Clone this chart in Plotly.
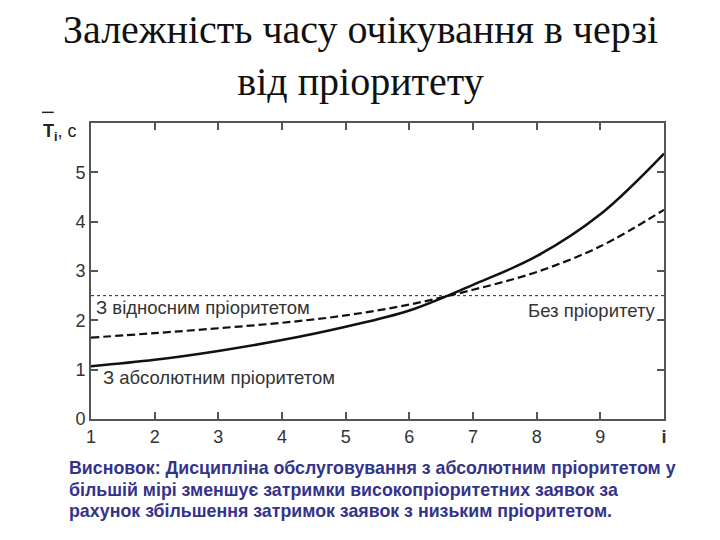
import plotly.graph_objects as go

priority = [1, 2, 3, 4, 5, 6, 7, 8, 9, 10]
absolute = [1.07, 1.2, 1.38, 1.6, 1.87, 2.2, 2.72, 3.3, 4.15, 5.38]
relative = [1.65, 1.74, 1.84, 1.95, 2.1, 2.32, 2.62, 2.98, 3.5, 4.24]
no_priority = [2.5] * 10
x_tick_vals = [1, 2, 3, 4, 5, 6, 7, 8, 9, 10]
x_tick_text = ["1", "2", "3", "4", "5", "6", "7", "8", "9", "<b>i</b>"]
y_tick_vals = [0, 1, 2, 3, 4, 5, 6]
y_tick_text = ["0", "1", "2", "3", "4", "5", ""]
conclusion_lines = [
    "Висновок: Дисципліна обслуговування з абсолютним пріоритетом у",
    "більшій мірі зменшує затримки високопріоритетних заявок за",
    "рахунок збільшення затримок заявок з низьким пріоритетом.",
]

fig = go.Figure()
fig.add_trace(go.Scatter(x=priority, y=no_priority, mode="lines",
                         line=dict(color="#222", width=1, dash="dot"), showlegend=False))
fig.add_trace(go.Scatter(x=priority, y=relative, mode="lines", line_shape="spline",
                         line=dict(color="#111", width=2.2, dash="8px,4px"), showlegend=False))
fig.add_trace(go.Scatter(x=priority, y=absolute, mode="lines", line_shape="spline",
                         line=dict(color="#111", width=2.5), showlegend=False))

tick_font = dict(family="Liberation Sans, Arial", size=18, color="#333")
fig.update_xaxes(range=[1, 10], tickvals=x_tick_vals, ticktext=x_tick_text,
                 ticks="inside", ticklen=7, tickwidth=1.5, tickcolor="#555",
                 showline=True, linecolor="#555", linewidth=2, mirror="ticks",
                 showgrid=False, zeroline=False, tickfont=tick_font)
fig.update_yaxes(range=[0, 6], tickvals=y_tick_vals, ticktext=y_tick_text,
                 ticks="inside", ticklen=7, tickwidth=1.5, tickcolor="#555",
                 showline=True, linecolor="#555", linewidth=2, mirror="ticks",
                 showgrid=False, zeroline=False, tickfont=tick_font)

ann_font = dict(family="Liberation Sans, Arial", size=18.5, color="#333")
fig.add_annotation(x=1.05, y=2.27, text="З відносним пріоритетом", showarrow=False,
                   xanchor="left", yanchor="middle", font=ann_font)
fig.add_annotation(x=1.16, y=0.85, text="З абсолютним пріоритетом", showarrow=False,
                   xanchor="left", yanchor="middle", font=ann_font)
fig.add_annotation(x=9.9, y=2.19, text="Без пріоритету", showarrow=False,
                   xanchor="right", yanchor="middle", font=ann_font)

# y-axis label T̄i, c
fig.add_annotation(xref="paper", yref="paper", x=-0.088, y=1.015, xanchor="left", yanchor="top",
                   text="<b>T</b><sub><b>i</b></sub>, c", showarrow=False,
                   font=dict(family="Liberation Sans, Arial", size=18, color="#222"))
fig.add_shape(type="line", xref="paper", yref="paper", x0=-0.0855, x1=-0.065, y0=1.036, y1=1.036,
              line=dict(color="#222", width=1.5))

# title as annotation
fig.add_annotation(xref="paper", yref="paper", x=0.4695, y=1.40, xanchor="center", yanchor="top",
                   showarrow=False, align="center",
                   text="Залежність часу очікування в черзі<br>від пріоритету",
                   font=dict(family="Liberation Serif, Times New Roman", size=40, color="#111"))

for line_text, ypos in zip(conclusion_lines, [-0.1655, -0.240, -0.311]):
    fig.add_annotation(xref="paper", yref="paper", x=-0.042, y=ypos, xanchor="left", yanchor="middle",
                       align="left", showarrow=False, text="<b>" + line_text + "</b>",
                       font=dict(family="Liberation Sans, Arial", size=17.8, color="#33338A"))

fig.update_layout(
    width=720, height=540,
    margin=dict(l=83, r=64, t=115, b=129),
    paper_bgcolor="white", plot_bgcolor="white",
)

fig.write_html("out.html")
